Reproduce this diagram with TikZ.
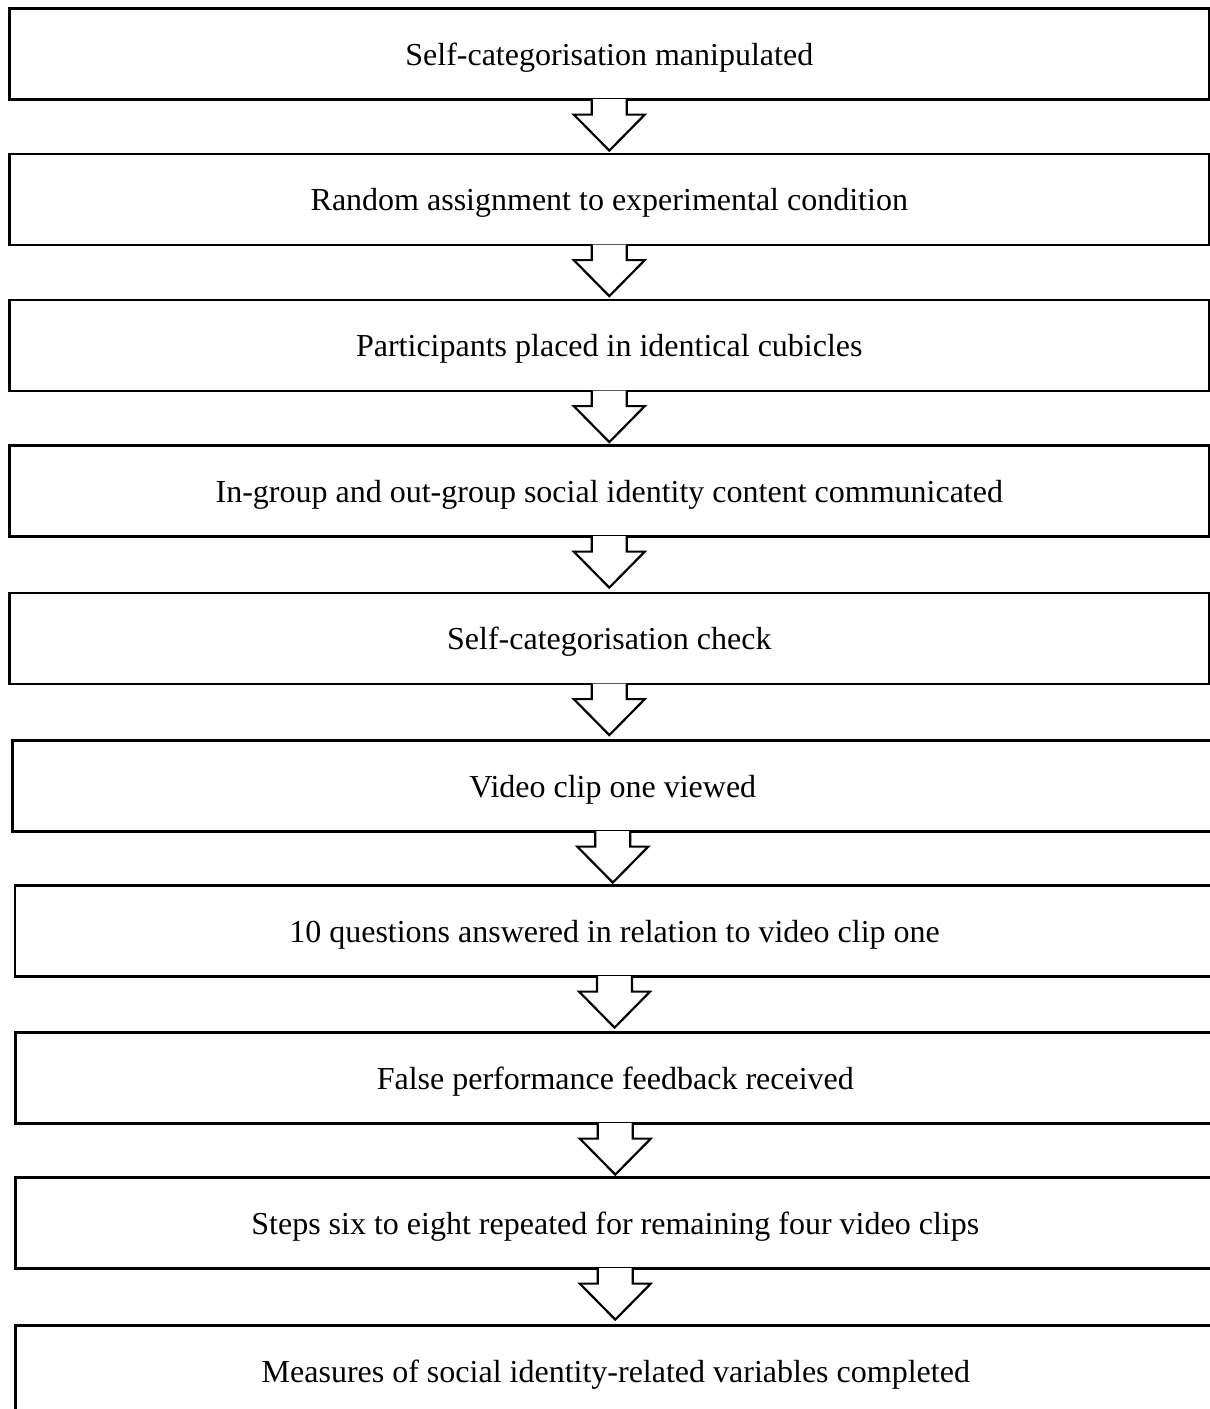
\documentclass[tikz,border=0pt]{standalone}
\usepackage{fontspec}
\setmainfont{Liberation Serif}
\usetikzlibrary{calc}
\tikzset{
  stepbox/.style={draw=black, line width=2.6pt, fill=white, inner sep=0pt,
    font=\fontsize{32}{38}\selectfont, text height=23pt, text depth=0pt, anchor=north west},
  blockarrow/.style={draw=black, line width=2.2pt, fill=white, line join=miter},
}
\newcommand{\boxat}[5]{% name, left, top, right, text
  \node[stepbox, minimum width={(#4-#2)*1pt}, minimum height=91pt] (#1) at (#2,#3) {#5};}
\newcommand{\flowarrow}[2]{% from, to
  \draw[blockarrow] ($(#1.south)+(-17.5,-1.6)$) -- ++(0,15.6) -- ++(-18,0)
    -- ($(#1.south)+(0,50)$) -- ($(#1.south)+(35.5,14)$) -- ++(-18,0) -- ++(0,-15.6);}
\begin{document}
\begin{tikzpicture}[x=1pt,y=-1pt]
\useasboundingbox (0,0) rectangle (1210,1409);
\boxat{b1}{8}{7}{1208}{Self-categorisation manipulated}
\boxat{b2}{8}{152.5}{1208}{Random assignment to experimental condition}
\boxat{b3}{8}{298.5}{1208}{Participants placed in identical cubicles}
\boxat{b4}{8}{444}{1208}{In-group and out-group social identity content communicated}
\boxat{b5}{8}{591.5}{1208}{Self-categorisation check}
\boxat{b6}{11}{739}{1212}{Video clip one viewed}
\boxat{b7}{13.5}{884}{1213}{10 questions answered in relation to video clip one}
\boxat{b8}{14}{1031}{1214}{False performance feedback received}
\boxat{b9}{14}{1176}{1214}{Steps six to eight repeated for remaining four video clips}
\boxat{b10}{14}{1324}{1215}{Measures of social identity-related variables completed}
\flowarrow{b1}{b2}
\flowarrow{b2}{b3}
\flowarrow{b3}{b4}
\flowarrow{b4}{b5}
\flowarrow{b5}{b6}
\flowarrow{b6}{b7}
\flowarrow{b7}{b8}
\flowarrow{b8}{b9}
\flowarrow{b9}{b10}
\end{tikzpicture}
\end{document}
